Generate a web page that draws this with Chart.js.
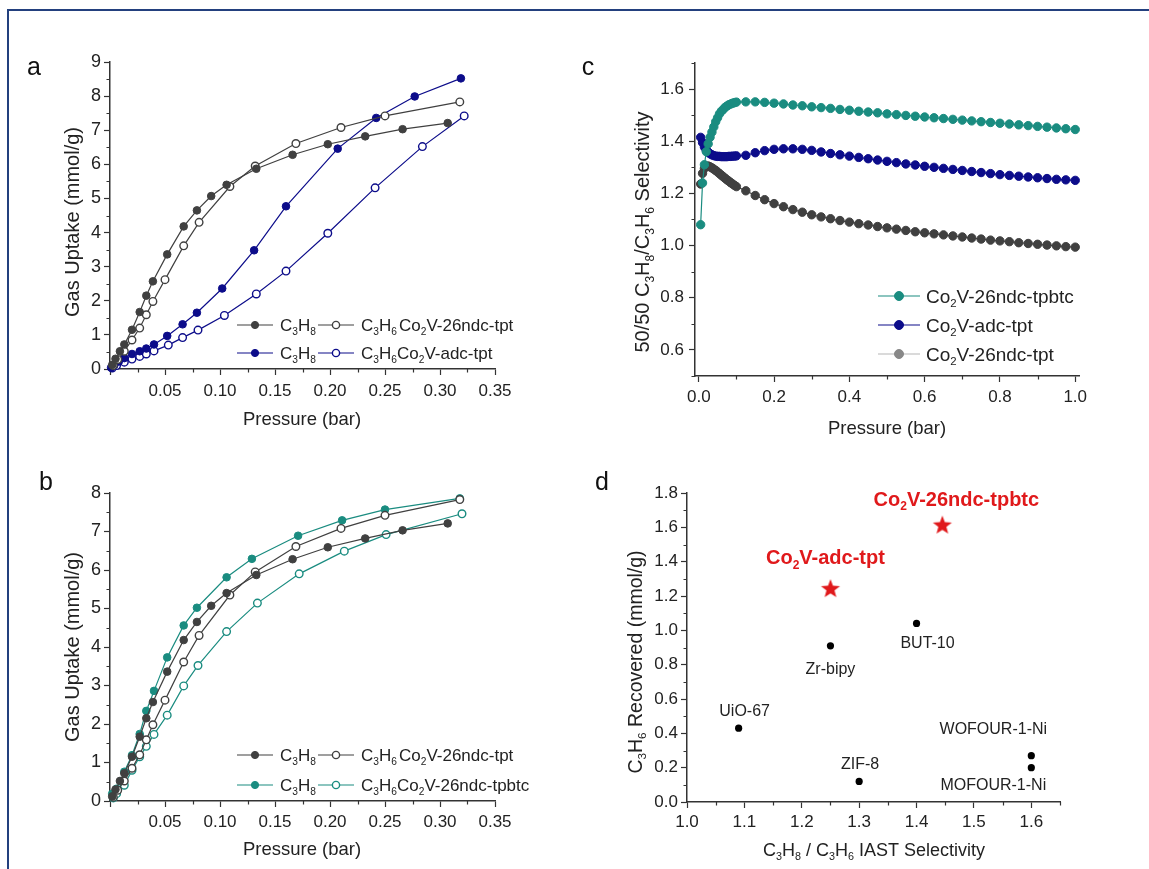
<!DOCTYPE html>
<html>
<head>
<meta charset="utf-8">
<script src="https://cdn.jsdelivr.net/npm/chart.js@4.4.1/dist/chart.umd.min.js"></script>
<style>
    html, body { margin: 0; padding: 0; background: #fff; }
    #page { position: relative; width: 1149px; height: 869px; overflow: hidden; background: #fff; }
    #frame { position: absolute; left: 7px; top: 9px; width: 1160px; height: 880px;
             border-left: 2px solid #23407e; border-top: 2px solid #23407e; }
    canvas { position: absolute; }
</style>
</head>
<body>
<div id="page">
    <div id="frame"></div>
    <canvas id="chartA" width="560" height="440" style="left:0;top:0;width:560px;height:440px"></canvas>
    <canvas id="chartB" width="560" height="429" style="left:0;top:440px;width:560px;height:429px"></canvas>
    <canvas id="chartC" width="589" height="440" style="left:560px;top:0;width:589px;height:440px"></canvas>
    <canvas id="chartD" width="589" height="429" style="left:560px;top:440px;width:589px;height:429px"></canvas>
</div>
<script>
// ============================================
// 數據 (a, b: 吸附等溫線)
// ============================================
const p26tptC3H8 = [0.002, 0.005, 0.009, 0.013, 0.020, 0.027, 0.033, 0.039, 0.052, 0.067, 0.079, 0.092, 0.106, 0.133, 0.166, 0.198, 0.232, 0.266, 0.307];
const u26tptC3H8 = [0.12, 0.30, 0.52, 0.72, 1.15, 1.67, 2.15, 2.57, 3.36, 4.18, 4.65, 5.07, 5.40, 5.87, 6.28, 6.59, 6.82, 7.03, 7.21];
const p26tptC3H6 = [0.003, 0.007, 0.013, 0.020, 0.027, 0.033, 0.039, 0.050, 0.067, 0.081, 0.109, 0.132, 0.169, 0.210, 0.250, 0.318];
const u26tptC3H6 = [0.10, 0.28, 0.52, 0.85, 1.20, 1.59, 1.98, 2.62, 3.61, 4.30, 5.35, 5.95, 6.61, 7.08, 7.42, 7.83];

const pAdcC3H8 = [0.001, 0.004, 0.008, 0.013, 0.020, 0.027, 0.033, 0.040, 0.052, 0.066, 0.079, 0.102, 0.131, 0.160, 0.207, 0.242, 0.277, 0.319];
const uAdcC3H8 = [0.04, 0.12, 0.22, 0.32, 0.44, 0.52, 0.60, 0.72, 0.97, 1.31, 1.65, 2.36, 3.48, 4.77, 6.46, 7.36, 7.99, 8.52];
const pAdcC3H6 = [0.002, 0.006, 0.013, 0.020, 0.027, 0.033, 0.040, 0.053, 0.066, 0.080, 0.104, 0.133, 0.160, 0.198, 0.241, 0.284, 0.322];
const uAdcC3H6 = [0.03, 0.10, 0.20, 0.29, 0.37, 0.44, 0.53, 0.70, 0.92, 1.14, 1.57, 2.20, 2.87, 3.98, 5.31, 6.52, 7.42];

const pTpbtcC3H8 = [0.002, 0.006, 0.010, 0.013, 0.020, 0.027, 0.033, 0.040, 0.052, 0.067, 0.079, 0.106, 0.129, 0.171, 0.211, 0.250, 0.318];
const uTpbtcC3H8 = [0.19, 0.32, 0.52, 0.76, 1.19, 1.74, 2.34, 2.86, 3.73, 4.56, 5.02, 5.81, 6.29, 6.89, 7.29, 7.57, 7.86];
const pTpbtcC3H6 = [0.003, 0.006, 0.013, 0.020, 0.027, 0.033, 0.040, 0.052, 0.067, 0.080, 0.106, 0.134, 0.172, 0.213, 0.251, 0.320];
const uTpbtcC3H6 = [0.08, 0.19, 0.41, 0.80, 1.15, 1.42, 1.73, 2.23, 2.99, 3.52, 4.40, 5.14, 5.90, 6.49, 6.92, 7.46];

// ============================================
// 數據 (c: IAST 選擇性)
// ============================================
const pressureC = [0.005, 0.01, 0.015, 0.02, 0.025, 0.03, 0.035, 0.04, 0.045, 0.05,
    0.055, 0.06, 0.065, 0.07, 0.075, 0.08, 0.085, 0.09, 0.095, 0.1,
    0.125, 0.15, 0.175, 0.2, 0.225, 0.25, 0.275, 0.3, 0.325, 0.35, 0.375, 0.4,
    0.425, 0.45, 0.475, 0.5, 0.525, 0.55, 0.575, 0.6, 0.625, 0.65, 0.675, 0.7,
    0.725, 0.75, 0.775, 0.8, 0.825, 0.85, 0.875, 0.9, 0.925, 0.95, 0.975, 1.0];
const selTpbtc = [1.08, 1.24, 1.31, 1.36, 1.39, 1.415, 1.435, 1.455, 1.475, 1.49,
    1.505, 1.515, 1.522, 1.53, 1.535, 1.54, 1.543, 1.546, 1.548, 1.55,
    1.551, 1.551, 1.549, 1.546, 1.543, 1.539, 1.536, 1.532, 1.529, 1.526, 1.522, 1.519,
    1.515, 1.512, 1.509, 1.505, 1.502, 1.499, 1.496, 1.493, 1.490, 1.487, 1.484, 1.481,
    1.478, 1.475, 1.472, 1.469, 1.466, 1.463, 1.460, 1.457, 1.454, 1.451, 1.448, 1.445];
const selAdc = [1.415, 1.395, 1.378, 1.366, 1.358, 1.352, 1.348, 1.345, 1.343, 1.342,
    1.342, 1.341, 1.341, 1.341, 1.341, 1.342, 1.342, 1.343, 1.343, 1.344,
    1.346, 1.356, 1.364, 1.369, 1.371, 1.371, 1.369, 1.365, 1.359, 1.353, 1.348, 1.343,
    1.338, 1.333, 1.328, 1.323, 1.318, 1.313, 1.309, 1.304, 1.300, 1.296, 1.292, 1.288,
    1.284, 1.280, 1.276, 1.272, 1.269, 1.266, 1.263, 1.260, 1.257, 1.254, 1.252, 1.250];
const sel26tpt = [1.236, 1.277, 1.296, 1.304, 1.305, 1.302, 1.298, 1.293, 1.288, 1.282,
    1.276, 1.270, 1.264, 1.258, 1.252, 1.247, 1.241, 1.236, 1.231, 1.226,
    1.210, 1.192, 1.176, 1.161, 1.149, 1.138, 1.128, 1.118, 1.110, 1.103, 1.096, 1.090,
    1.084, 1.079, 1.073, 1.068, 1.063, 1.058, 1.053, 1.049, 1.045, 1.041, 1.037, 1.033,
    1.029, 1.025, 1.021, 1.018, 1.015, 1.011, 1.008, 1.005, 1.002, 0.999, 0.996, 0.994];

// ============================================
// 數據 (d: 比較)
// ============================================
const starNames = ['Co_2V-adc-tpt', 'Co_2V-26ndc-tpbtc'];
const starSel = [1.25, 1.445];
const starRec = [1.24, 1.61];
const refNames = ['UiO-67', 'Zr-bipy', 'BUT-10', 'ZIF-8', 'WOFOUR-1-Ni', 'MOFOUR-1-Ni'];
const refSel = [1.09, 1.25, 1.40, 1.30, 1.60, 1.60];
const refRec = [0.43, 0.91, 1.04, 0.12, 0.27, 0.20];

// 刻度
const xTicksAB = [0, 0.05, 0.10, 0.15, 0.20, 0.25, 0.30, 0.35];
const yTicksA = [0, 1, 2, 3, 4, 5, 6, 7, 8, 9];
const yTicksB = [0, 1, 2, 3, 4, 5, 6, 7, 8];
const xTicksC = [0, 0.2, 0.4, 0.6, 0.8, 1.0];
const yTicksC = [0.6, 0.8, 1.0, 1.2, 1.4, 1.6];
const xTicksD = [1.0, 1.1, 1.2, 1.3, 1.4, 1.5, 1.6];
const yTicksD = [0, 0.2, 0.4, 0.6, 0.8, 1.0, 1.2, 1.4, 1.6, 1.8];

// ============================================
// 樣式與工具
// ============================================
const FONT = "'Liberation Sans', Arial, sans-serif";
const GRAY = '#404040';
const NAVY = '#0c0c8a';
const TEAL = '#1a8c80';
const RED = '#e0191b';
const INK = '#222';

// label offsets (px) for panel d annotations
const starLabelOffsets = [[-5, -32], [14, -27]];
const refLabelOffsets = [[6, -18], [0, 22], [11, 19], [1, -18], [-38, -27], [-38, 17]];

function toXY(xs, ys) {
    return xs.map((x, i) => ({ x: x, y: ys[i] }));
}

function series(xs, ys, color, open, r) {
    return {
        data: toXY(xs, ys),
        showLine: true,
        borderColor: color,
        borderWidth: 1.2,
        pointRadius: r || 3.8,
        pointBackgroundColor: open ? '#fff' : color,
        pointBorderColor: color,
        pointBorderWidth: open ? 1.4 : 1,
        clip: false
    };
}

function makeScale(vals, min, max, fmt, o) {
    return {
        type: 'linear',
        min: min,
        max: max,
        afterBuildTicks: function (s) { s.ticks = vals.map(v => ({ value: v })); },
        afterFit: function (s) {
            if (s.isHorizontal()) s.height = o.fit; else s.width = o.fit;
        },
        ticks: {
            callback: fmt,
            autoSkip: false,
            maxRotation: 0,
            padding: o.pad,
            color: INK,
            font: { family: FONT, size: o.size }
        },
        grid: { drawOnChartArea: false, drawTicks: true, tickLength: 6, tickColor: '#333', tickWidth: 1.2 },
        border: { display: true, color: '#333', width: 1.5 }
    };
}

// 下標文字: "C_3H_8" -> C₃H₈
function drawRich(ctx, str, x, y, size, align, weight, color) {
    weight = weight || 'normal';
    const runs = [];
    for (let i = 0; i < str.length; i++) {
        const sub = str[i] === '_';
        const ch = sub ? str[++i] : str[i];
        const last = runs[runs.length - 1];
        if (last && last.sub === sub) last.t += ch; else runs.push({ t: ch, sub: sub });
    }
    const subSize = size * 0.6;
    let w = 0;
    runs.forEach(r => {
        ctx.font = weight + ' ' + (r.sub ? subSize : size) + 'px ' + FONT;
        r.w = ctx.measureText(r.t).width;
        w += r.w;
    });
    let cx = align === 'center' ? x - w / 2 : (align === 'right' ? x - w : x);
    const base = y + size * 0.36;
    ctx.fillStyle = color || INK;
    ctx.textAlign = 'left';
    ctx.textBaseline = 'alphabetic';
    runs.forEach(r => {
        ctx.font = weight + ' ' + (r.sub ? subSize : size) + 'px ' + FONT;
        ctx.fillText(r.t, cx, r.sub ? base + size * 0.22 : base);
        cx += r.w;
    });
}

function drawMinor(chart, axis, majors) {
    const s = chart.scales[axis], a = chart.chartArea, ctx = chart.ctx;
    const step = majors[1] - majors[0];
    const mids = [majors[0] - step / 2, majors[majors.length - 1] + step / 2];
    for (let i = 0; i < majors.length - 1; i++) mids.push((majors[i] + majors[i + 1]) / 2);
    ctx.strokeStyle = '#333';
    ctx.lineWidth = 1.2;
    ctx.beginPath();
    mids.forEach(v => {
        if (v < s.min - 1e-9 || v > s.max + 1e-9) return;
        const p = Math.round(s.getPixelForValue(v)) + 0.5;
        if (axis === 'x') { ctx.moveTo(p, a.bottom); ctx.lineTo(p, a.bottom + 3.5); }
        else { ctx.moveTo(a.left, p); ctx.lineTo(a.left - 3.5, p); }
    });
    ctx.stroke();
}

function drawLegend(chart, L) {
    const ctx = chart.ctx;
    L.rows.forEach(row => {
        row.items.forEach((it, k) => {
            const ds = chart.data.datasets[it.ds];
            const x0 = L.cols[k];
            ctx.strokeStyle = it.line || ds.borderColor;
            ctx.lineWidth = 1.2;
            ctx.beginPath();
            ctx.moveTo(x0, row.y);
            ctx.lineTo(x0 + L.len, row.y);
            ctx.stroke();
            ctx.beginPath();
            ctx.arc(x0 + L.len / 2, row.y, L.r, 0, 2 * Math.PI);
            ctx.fillStyle = it.fill || ds.pointBackgroundColor;
            ctx.fill();
            ctx.strokeStyle = it.edge || ds.pointBorderColor;
            ctx.lineWidth = ds.pointBorderWidth;
            ctx.stroke();
            drawRich(ctx, it.text, x0 + L.len + L.gap, row.y, L.size, 'left');
        });
        if (row.name) drawRich(ctx, row.name, row.nameX, row.y, L.size, 'left');
    });
}

function decor(cfg) {
    return {
        id: 'decor',
        afterDraw: function (chart) {
            const ctx = chart.ctx;
            ctx.save();
            drawMinor(chart, 'x', cfg.xMajors);
            drawMinor(chart, 'y', cfg.yMajors);

            ctx.fillStyle = '#111';
            ctx.font = '25px ' + FONT;
            ctx.textAlign = 'center';
            ctx.textBaseline = 'middle';
            ctx.fillText(cfg.letter[0], cfg.letter[1], cfg.letter[2]);

            cfg.titles.forEach(t => {
                if (t.rot) {
                    ctx.save();
                    ctx.translate(t.x, t.y);
                    ctx.rotate(-Math.PI / 2);
                    drawRich(ctx, t.text, 0, 0, t.size, 'center');
                    ctx.restore();
                } else {
                    drawRich(ctx, t.text, t.x, t.y, t.size, 'center');
                }
            });

            if (cfg.legend) drawLegend(chart, cfg.legend);
            if (cfg.notes) cfg.notes(chart, ctx);
            ctx.restore();
        }
    };
}

function makeChart(id, datasets, sx, sy, pad, cfg) {
    return new Chart(document.getElementById(id), {
        type: 'scatter',
        data: { datasets: datasets },
        options: {
            responsive: false,
            animation: false,
            events: [],
            layout: { padding: pad },
            plugins: { legend: { display: false }, tooltip: { enabled: false } },
            scales: { x: sx, y: sy }
        },
        plugins: [decor(cfg)]
    });
}

function makeStar(r, color) {
    const c = document.createElement('canvas');
    c.width = c.height = 2 * r + 2;
    const g = c.getContext('2d');
    g.fillStyle = color;
    g.beginPath();
    for (let i = 0; i < 10; i++) {
        const rad = i % 2 ? r * 0.42 : r;
        const ang = -Math.PI / 2 + i * Math.PI / 5;
        g.lineTo(r + 1 + rad * Math.cos(ang), r + 1 + rad * Math.sin(ang));
    }
    g.closePath();
    g.fill();
    return c;
}

const fmt2 = v => (v === 0 ? '' : v.toFixed(2));
const fmtInt = v => String(v);
const fmt1 = v => v.toFixed(1);

// ============================================
// (a) Co2V-26ndc-tpt vs Co2V-adc-tpt
// ============================================
makeChart('chartA', [
    series(p26tptC3H8, u26tptC3H8, GRAY, false),
    series(p26tptC3H6, u26tptC3H6, GRAY, true),
    series(pAdcC3H8, uAdcC3H8, NAVY, false),
    series(pAdcC3H6, uAdcC3H6, NAVY, true)
],
    makeScale(xTicksAB, 0, 0.35, fmt2, { fit: 71, size: 17, pad: 6 }),
    makeScale(yTicksA, 0, 9, fmtInt, { fit: 110, size: 18, pad: 3 }),
    { top: 62, right: 65, left: 0, bottom: 0 },
    {
        xMajors: xTicksAB, yMajors: yTicksA,
        letter: ['a', 34, 68],
        titles: [
            { text: 'Gas Uptake (mmol/g)', x: 72, y: 222, rot: true, size: 20 },
            { text: 'Pressure (bar)', x: 302, y: 418, size: 18.5 }
        ],
        legend: {
            cols: [237, 318], len: 36, gap: 7, r: 3.6, size: 17,
            rows: [
                { y: 325, items: [{ ds: 0, text: 'C_3H_8' }, { ds: 1, text: 'C_3H_6' }], name: 'Co_2V-26ndc-tpt', nameX: 399 },
                { y: 353, items: [{ ds: 2, text: 'C_3H_8' }, { ds: 3, text: 'C_3H_6' }], name: 'Co_2V-adc-tpt', nameX: 397 }
            ]
        }
    });

// ============================================
// (b) Co2V-26ndc-tpt vs Co2V-26ndc-tpbtc
// ============================================
makeChart('chartB', [
    series(p26tptC3H8, u26tptC3H8, GRAY, false),
    series(p26tptC3H6, u26tptC3H6, GRAY, true),
    series(pTpbtcC3H8, uTpbtcC3H8, TEAL, false),
    series(pTpbtcC3H6, uTpbtcC3H6, TEAL, true)
],
    makeScale(xTicksAB, 0, 0.35, fmt2, { fit: 68, size: 17, pad: 5 }),
    makeScale(yTicksB, 0, 8, fmtInt, { fit: 110, size: 18, pad: 3 }),
    { top: 53, right: 65, left: 0, bottom: 0 },
    {
        xMajors: xTicksAB, yMajors: yTicksB,
        letter: ['b', 46, 43],
        titles: [
            { text: 'Gas Uptake (mmol/g)', x: 72, y: 207, rot: true, size: 20 },
            { text: 'Pressure (bar)', x: 302, y: 408, size: 18.5 }
        ],
        legend: {
            cols: [237, 318], len: 36, gap: 7, r: 3.6, size: 17,
            rows: [
                { y: 315, items: [{ ds: 0, text: 'C_3H_8' }, { ds: 1, text: 'C_3H_6' }], name: 'Co_2V-26ndc-tpt', nameX: 399 },
                { y: 345, items: [{ ds: 2, text: 'C_3H_8' }, { ds: 3, text: 'C_3H_6' }], name: 'Co_2V-26ndc-tpbtc', nameX: 397 }
            ]
        }
    });

// ============================================
// (c) 50/50 IAST 選擇性
// ============================================
makeChart('chartC', [
    series(pressureC, selTpbtc, TEAL, false, 4.2),
    series(pressureC, selAdc, NAVY, false, 4.2),
    series(pressureC, sel26tpt, GRAY, false, 4.2)
],
    makeScale(xTicksC, -0.01, 1.01, fmt1, { fit: 64, size: 17, pad: 5 }),
    makeScale(yTicksC, 0.5, 1.7, fmt1, { fit: 135, size: 17, pad: 5 }),
    { top: 63, right: 70, left: 0, bottom: 0 },
    {
        xMajors: xTicksC, yMajors: yTicksC,
        letter: ['c', 28, 68],
        titles: [
            { text: '50/50 C_3H_8/C_3H_6 Selectivity', x: 82, y: 232, rot: true, size: 20 },
            { text: 'Pressure (bar)', x: 327, y: 427, size: 18.5 }
        ],
        legend: {
            cols: [318], len: 42, gap: 6, r: 4.5, size: 19,
            rows: [
                { y: 296, items: [{ ds: 0, text: 'Co_2V-26ndc-tpbtc' }] },
                { y: 325, items: [{ ds: 1, text: 'Co_2V-adc-tpt' }] },
                { y: 354, items: [{ ds: 2, text: 'Co_2V-26ndc-tpt', line: '#b5b5b5', fill: '#888', edge: '#888' }] }
            ]
        }
    });

// ============================================
// (d) C3H6 回收量 vs IAST 選擇性
// ============================================
makeChart('chartD', [
    {
        data: toXY(starSel, starRec),
        pointStyle: makeStar(10, RED),
        pointRadius: 10,
        showLine: false,
        clip: false
    },
    {
        data: toXY(refSel, refRec),
        pointRadius: 3.6,
        pointBackgroundColor: '#000',
        pointBorderColor: '#000',
        pointBorderWidth: 0,
        showLine: false,
        clip: false
    }
],
    makeScale(xTicksD, 1.0, 1.65, fmt1, { fit: 67, size: 17, pad: 4 }),
    makeScale(yTicksD, 0, 1.8, fmt1, { fit: 127, size: 17, pad: 3 }),
    { top: 53, right: 89, left: 0, bottom: 0 },
    {
        xMajors: xTicksD, yMajors: yTicksD,
        letter: ['d', 42, 43],
        titles: [
            { text: 'C_3H_6 Recovered (mmol/g)', x: 75, y: 222, rot: true, size: 19.5 },
            { text: 'C_3H_8 / C_3H_6 IAST Selectivity', x: 314, y: 410, size: 18 }
        ],
        notes: function (chart, ctx) {
            const sx = chart.scales.x, sy = chart.scales.y;
            starNames.forEach((n, i) => {
                const o = starLabelOffsets[i];
                drawRich(ctx, n, sx.getPixelForValue(starSel[i]) + o[0], sy.getPixelForValue(starRec[i]) + o[1],
                    20, 'center', 'bold', RED);
            });
            refNames.forEach((n, i) => {
                const o = refLabelOffsets[i];
                drawRich(ctx, n, sx.getPixelForValue(refSel[i]) + o[0], sy.getPixelForValue(refRec[i]) + o[1],
                    16, 'center', 'normal', INK);
            });
        }
    });
</script>
</body>
</html>
